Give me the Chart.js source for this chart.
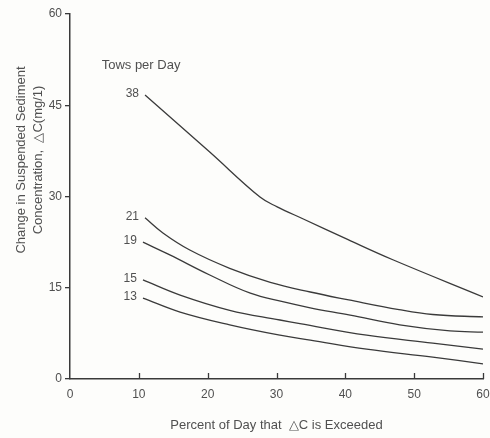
<!DOCTYPE html>
<html>
<head>
<meta charset="utf-8">
<script src="https://cdn.jsdelivr.net/npm/chart.js@4/dist/chart.umd.min.js"></script>
<style>
  html, body { margin: 0; padding: 0; background: #fdfdfb; }
  #wrap { width: 490px; height: 438px; }
</style>
</head>
<body>
<div id="wrap"><canvas id="c" width="490" height="438"></canvas></div>
<script>
// Percent of day that the concentration change is exceeded (x) and ΔC in mg/l (y)
const pct38 = [10.9, 20.3, 27.6, 30.1, 33.9, 40.4, 46.9, 60];
const dc38  = [46.7, 37.3, 29.9, 28.3, 26.3, 22.9, 19.6, 13.5];

const pct21 = [10.9, 13.5, 17.4, 23.2, 29.1, 34.9, 40.5, 47.8, 52.7, 60];
const dc21  = [26.5, 24.0, 21.2, 18.2, 15.9, 14.3, 13.0, 11.4, 10.6, 10.2];

const pct19 = [10.6, 14.5, 20.3, 26.2, 30.9, 34.9, 40.7, 47.9, 55.2, 60];
const dc19  = [22.5, 20.4, 17.1, 14.1, 12.7, 11.7, 10.5, 8.9, 7.9, 7.7];

const pct15 = [10.6, 16.0, 23.2, 30.5, 33.4, 43.1, 52.7, 60];
const dc15  = [16.3, 13.8, 11.3, 9.7, 9.1, 7.2, 5.9, 4.9];

const pct13 = [10.6, 16.0, 23.2, 30.5, 34.9, 43.1, 52.7, 60];
const dc13  = [13.3, 11.0, 8.9, 7.2, 6.4, 4.9, 3.6, 2.5];

const towLabels = ['38', '21', '19', '15', '13'];
const xTicks = [0, 10, 20, 30, 40, 50, 60];
const yTicks = [0, 15, 30, 45, 60];

const series = [[pct38, dc38], [pct21, dc21], [pct19, dc19], [pct15, dc15], [pct13, dc13]];

const INK = '#3a3a3a';
const TEXT = '#505050';
const FONT = "'Liberation Sans', Arial, sans-serif";

const datasets = series.map(([xs, ys], i) => ({
  label: towLabels[i],
  data: xs.map((x, k) => ({ x: x, y: ys[k] })),
  borderColor: INK,
  borderWidth: 1.3,
  pointRadius: 0,
  fill: false,
  tension: 0.4
}));

// Curve labels, the "Tows per Day" heading, y-axis title and inward x ticks
const annotate = {
  id: 'annotate',
  afterDraw(chart) {
    const ctx = chart.ctx;
    const xs = chart.scales.x, ys = chart.scales.y;
    ctx.save();
    ctx.fillStyle = TEXT;
    ctx.font = '12px ' + FONT;
    ctx.textAlign = 'right';
    ctx.textBaseline = 'middle';
    chart.data.datasets.forEach(ds => {
      const p = ds.data[0];
      ctx.fillText(ds.label, xs.getPixelForValue(p.x) - 6, ys.getPixelForValue(p.y) - 1);
    });

    ctx.font = '13px ' + FONT;
    ctx.textAlign = 'left';
    ctx.fillText('Tows per Day', xs.getPixelForValue(4.6), ys.getPixelForValue(51.6));

    // inward tick marks on the x axis
    ctx.strokeStyle = INK;
    ctx.lineWidth = 1.3;
    const yb = chart.chartArea.bottom;
    xTicks.slice(1).forEach(v => {
      const px = Math.round(xs.getPixelForValue(v)) + 0.5;
      ctx.beginPath();
      ctx.moveTo(px, yb);
      ctx.lineTo(px, yb - 6);
      ctx.stroke();
    });

    // two-line y-axis title
    ctx.fillStyle = TEXT;
    ctx.font = '13px ' + FONT;
    ctx.textAlign = 'center';
    ctx.textBaseline = 'middle';
    ctx.translate(0, 160);
    ctx.rotate(-Math.PI / 2);
    ctx.fillText('Change in Suspended Sediment', 0, 21);
    ctx.fillText('Concentration,  \u25B3C(mg/1)', 0, 38);
    ctx.restore();
  }
};

new Chart(document.getElementById('c'), {
  type: 'line',
  data: { datasets: datasets },
  plugins: [annotate],
  options: {
    responsive: false,
    animation: false,
    events: [],
    layout: { padding: { left: 0, right: 7, top: 14, bottom: 0 } },
    plugins: { legend: { display: false }, tooltip: { enabled: false } },
    scales: {
      x: {
        type: 'linear',
        min: 0, max: 60,
        afterFit(s) { s.height = 59; s.paddingLeft = 0; s.paddingRight = 0; },
        afterBuildTicks(s) { s.ticks = xTicks.map(v => ({ value: v })); },
        grid: { display: true, drawOnChartArea: false, drawTicks: false },
        border: { display: true, color: INK, width: 1.5 },
        ticks: { color: TEXT, font: { family: FONT, size: 12 }, padding: 8, maxRotation: 0 },
        title: {
          display: true,
          text: 'Percent of Day that  \u25B3C is Exceeded',
          color: TEXT,
          font: { family: FONT, size: 13 },
          padding: { top: 0, bottom: 5 }
        }
      },
      y: {
        type: 'linear',
        min: 0, max: 60,
        afterFit(s) { s.width = 70; s.paddingTop = 0; s.paddingBottom = 0; },
        afterBuildTicks(s) { s.ticks = yTicks.map(v => ({ value: v })); },
        grid: { display: true, drawOnChartArea: false, drawTicks: true, tickLength: 5, color: INK, lineWidth: 1.3 },
        border: { display: true, color: INK, width: 1.5 },
        ticks: { color: TEXT, font: { family: FONT, size: 12 }, padding: 3 }
      }
    }
  }
});
</script>
</body>
</html>
